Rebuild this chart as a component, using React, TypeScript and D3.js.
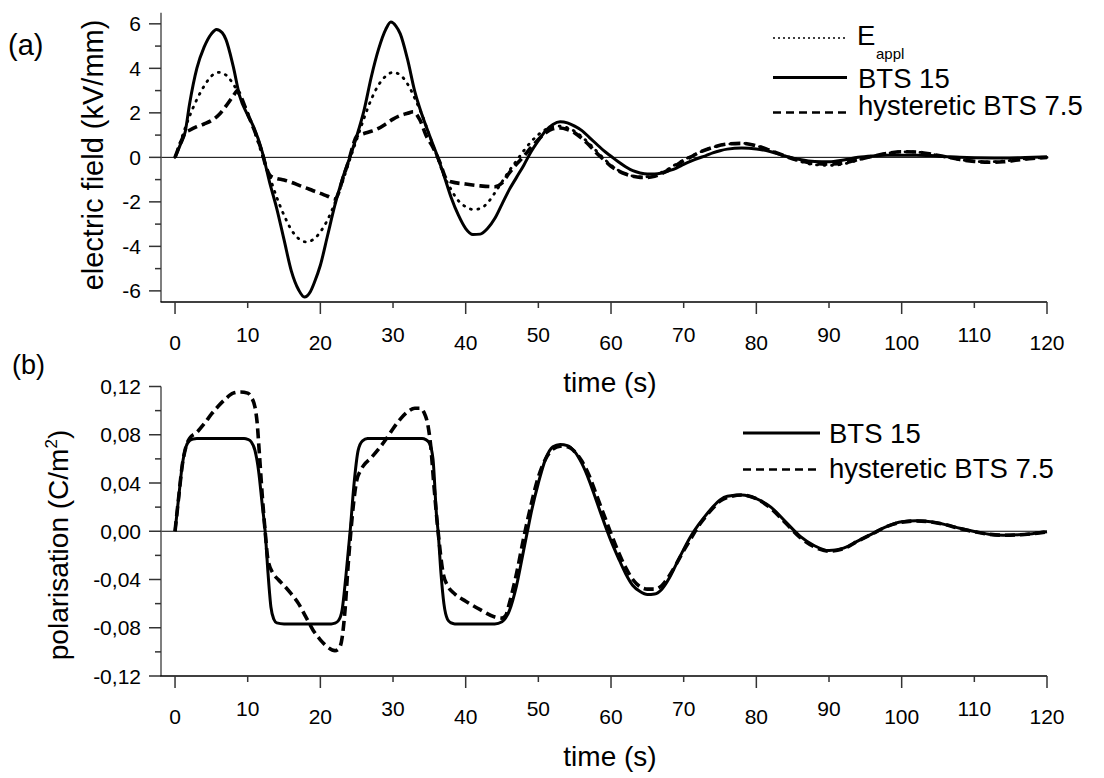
import React from 'react';
import * as d3 from 'd3';

type Pt = [number, number];

// ---------- data ----------
const timeTicks = [0, 10, 20, 30, 40, 50, 60, 70, 80, 90, 100, 110, 120];
const fieldTicks = [-6, -5, -4, -3, -2, -1, 0, 1, 2, 3, 4, 5, 6];
const polTicks = [-0.12, -0.1, -0.08, -0.06, -0.04, -0.02, 0, 0.02, 0.04, 0.06, 0.08, 0.1, 0.12];

// (a) applied field E_appl (kV/mm)
const eAppl: Pt[] = [
  [0, 0], [1, 0.95], [2, 1.85], [3, 2.6], [4, 3.2], [5, 3.65], [6, 3.82], [7, 3.7], [8, 3.3], [9, 2.7],
  [10, 2.0], [11, 1.1], [12, 0.1], [13, -0.85], [14, -1.8], [15, -2.6], [16, -3.25], [17, -3.65], [18, -3.8],
  [19, -3.7], [20, -3.35], [21, -2.8], [22, -2.05], [23, -1.15], [24, -0.15], [25, 0.8], [26, 1.75], [27, 2.6],
  [28, 3.25], [29, 3.65], [30, 3.82], [31, 3.7], [32, 3.3], [33, 2.65], [34, 1.9], [35, 1.0], [36, 0.1],
  [37, -0.8], [38, -1.45], [39, -1.95], [40, -2.22], [41, -2.34], [42, -2.3], [43, -2.05], [44, -1.6],
  [45, -1.1], [46, -0.6], [47, -0.15], [48, 0.3], [49, 0.7], [50, 1.02], [51, 1.25], [52, 1.38], [53, 1.4],
  [54, 1.33], [55, 1.17], [56, 0.92], [57, 0.62], [58, 0.28], [59, -0.05], [60, -0.35], [61, -0.58],
  [62, -0.74], [63, -0.84], [64, -0.88], [65, -0.87], [66, -0.8], [67, -0.67], [68, -0.5], [69, -0.3],
  [70, -0.12], [71, 0.05], [72, 0.2], [74, 0.45], [76, 0.6], [78, 0.63], [80, 0.52], [82, 0.3], [84, 0.05],
  [86, -0.18], [88, -0.33], [90, -0.36], [92, -0.3], [94, -0.12], [96, 0.05], [98, 0.18], [100, 0.25],
  [102, 0.24], [104, 0.15], [106, 0.02], [108, -0.1], [110, -0.18], [112, -0.2], [114, -0.17], [116, -0.1],
  [118, -0.04], [120, 0],
];

// (a) BTS 15 field
const eBts15: Pt[] = [
  [0, 0], [0.7, 0.55], [1.4, 1.15], [2, 2.4], [3, 4.0], [4, 4.95], [5, 5.55], [5.7, 5.75], [6.5, 5.6],
  [7, 5.3], [8, 4.1], [8.9, 2.75], [10, 1.9], [10.8, 1.38], [12, 0.25], [13, -1.1], [14, -2.3], [15, -3.7],
  [16, -5.1], [17, -5.95], [17.8, -6.28], [18.6, -6.05], [19.2, -5.6], [20, -4.85], [21, -3.5], [22, -2.15],
  [23, -1.0], [24, -0.05], [25, 0.95], [26, 2.1], [27, 3.6], [28, 4.85], [29, 5.75], [29.7, 6.08],
  [30.4, 5.9], [31, 5.55], [32, 4.4], [33, 2.95], [34, 1.9], [35, 1.0], [36, 0.15], [37, -0.8], [38, -1.8],
  [39, -2.6], [40, -3.2], [41, -3.47], [42, -3.45], [43, -3.2], [44, -2.75], [45, -2.1], [46, -1.45],
  [47, -0.9], [48, -0.35], [49, 0.25], [50, 0.75], [51, 1.2], [52, 1.48], [53, 1.6], [54, 1.55], [55, 1.4],
  [56, 1.2], [57, 0.9], [58, 0.6], [59, 0.3], [60, 0.05], [61, -0.2], [62, -0.42], [63, -0.6], [64, -0.7],
  [65, -0.75], [66, -0.75], [67, -0.7], [68, -0.6], [69, -0.48], [70, -0.32], [71, -0.17], [72, -0.04],
  [73, 0.07], [74, 0.2], [75, 0.3], [76, 0.37], [78, 0.42], [80, 0.38], [82, 0.25], [84, 0.06], [86, -0.1],
  [88, -0.19], [90, -0.2], [92, -0.12], [94, 0.0], [96, 0.06], [98, 0.09], [100, 0.1], [102, 0.1],
  [104, 0.08], [106, 0.04], [108, 0.0], [110, -0.02], [114, -0.03], [117, -0.01], [120, 0.02],
];

// (a) hysteretic BTS 7.5 field
const eHyst: Pt[] = [
  [0, 0], [0.7, 0.6], [1.4, 1.1], [2, 1.22], [3, 1.38], [4, 1.5], [5, 1.65], [6, 1.9], [7, 2.3], [8, 2.75],
  [8.6, 3.0], [9.1, 2.7], [10, 1.95], [11, 1.15], [12, 0.2], [12.5, -0.4], [13, -0.78], [13.5, -0.9],
  [14, -0.95], [15, -1.02], [16, -1.12], [17, -1.25], [18, -1.37], [19, -1.5], [20, -1.62], [21, -1.75],
  [22, -1.87], [22.5, -1.6], [23, -1.05], [24, -0.05], [24.5, 0.55], [25, 0.95], [26, 1.07], [27, 1.17],
  [28, 1.3], [29, 1.5], [30, 1.72], [31, 1.88], [32, 1.98], [32.8, 2.05], [33.7, 1.68], [34.6, 0.95],
  [35.5, 0.45], [36.5, -0.27], [37.3, -0.95], [38, -1.1], [40, -1.2], [42, -1.28], [44, -1.32], [45, -1.15],
  [46, -0.7], [47, -0.3], [48, 0.05], [49, 0.45], [50, 0.8], [51, 1.1], [52, 1.28], [53, 1.32], [54, 1.25],
  [55, 1.1], [56, 0.85], [57, 0.55], [58, 0.2], [59, -0.1], [60, -0.4], [61, -0.6], [62, -0.75], [63, -0.85],
  [64, -0.9], [65, -0.9], [66, -0.85], [67, -0.72], [68, -0.55], [69, -0.35], [70, -0.15], [71, 0.02],
  [72, 0.2], [74, 0.45], [76, 0.6], [78, 0.63], [80, 0.52], [82, 0.3], [84, 0.05], [86, -0.15], [88, -0.28],
  [90, -0.3], [92, -0.25], [94, -0.1], [96, 0.05], [98, 0.18], [100, 0.25], [102, 0.24], [104, 0.15],
  [106, 0.03], [108, -0.1], [110, -0.18], [112, -0.22], [114, -0.2], [116, -0.12], [118, -0.05], [120, 0],
];

// (b) BTS 15 polarisation (C/m^2)
const pBts15: Pt[] = [
  [0, 0], [0.5, 0.028], [1, 0.055], [1.5, 0.07], [2, 0.075], [2.5, 0.0765], [3, 0.0768], [9.5, 0.0768],
  [10, 0.0762], [10.5, 0.074], [11, 0.067], [11.5, 0.05], [12, 0.022], [12.4, 0], [12.8, -0.035],
  [13.2, -0.063], [13.6, -0.073], [14, -0.076], [15, -0.0768], [21.5, -0.0768], [22, -0.0762],
  [22.5, -0.074], [23, -0.065], [23.5, -0.038], [24.1, 0], [24.6, 0.037], [25.2, 0.067], [25.8, 0.075],
  [26.5, 0.0768], [34, 0.0768], [34.5, 0.076], [35, 0.073], [35.5, 0.06], [36, 0.012], [36.2, 0],
  [36.6, -0.035], [37, -0.06], [37.5, -0.073], [38, -0.076], [38.5, -0.0768], [44, -0.0768], [45, -0.075],
  [46, -0.066], [47, -0.045], [48, -0.015], [48.5, 0], [49, 0.015], [50, 0.04], [51, 0.06], [52, 0.07],
  [53, 0.072], [54, 0.071], [55, 0.066], [56, 0.056], [57, 0.042], [58, 0.025], [59, 0.008], [60, -0.008],
  [61, -0.022], [62, -0.035], [63, -0.045], [64, -0.05], [65, -0.0525], [66, -0.052], [67, -0.048],
  [68, -0.039], [69, -0.027], [70, -0.015], [71, -0.004], [72, 0.005], [73, 0.013], [74, 0.02],
  [75, 0.026], [76, 0.029], [78, 0.03], [80, 0.027], [82, 0.02], [84, 0.008], [86, -0.004], [88, -0.012],
  [90, -0.016], [92, -0.014], [94, -0.008], [96, -0.002], [98, 0.004], [100, 0.0078], [102, 0.0087],
  [104, 0.0078], [106, 0.0055], [108, 0.0025], [110, -0.0002], [112, -0.0025], [114, -0.0033], [116, -0.003],
  [118, -0.002], [120, -0.0005],
];

// (b) hysteretic BTS 7.5 polarisation
const pHyst: Pt[] = [
  [0, 0], [0.5, 0.028], [1, 0.055], [1.5, 0.07], [2, 0.077], [3, 0.082], [4, 0.089], [5, 0.097], [6, 0.104],
  [7, 0.11], [8, 0.1145], [9, 0.1155], [10, 0.1145], [10.5, 0.111], [11, 0.103], [11.3, 0.09], [11.6, 0.065],
  [12, 0.03], [12.4, 0], [12.8, -0.024], [13.5, -0.035], [14.2, -0.04], [15, -0.045], [16, -0.052],
  [17, -0.06], [18, -0.071], [19, -0.082], [20, -0.09], [21, -0.096], [22, -0.099], [22.6, -0.097],
  [23, -0.088], [23.4, -0.065], [23.8, -0.03], [24.2, 0], [24.6, 0.025], [25, 0.042], [25.5, 0.05],
  [26, 0.055], [27, 0.061], [28, 0.068], [29, 0.076], [30, 0.085], [31, 0.093], [32, 0.099], [33, 0.102],
  [33.7, 0.102], [34.3, 0.098], [34.8, 0.088], [35.2, 0.07], [35.6, 0.04], [36.2, 0], [36.9, -0.035],
  [37.5, -0.045], [38.5, -0.052], [40, -0.058], [42, -0.065], [44, -0.071], [45, -0.072], [45.5, -0.07],
  [46, -0.06], [47, -0.035], [48, -0.005], [49, 0.022], [50, 0.045], [51, 0.06], [52, 0.068], [53, 0.0705],
  [54, 0.07], [55, 0.066], [56, 0.058], [57, 0.046], [58, 0.03], [59, 0.014], [60, -0.002], [61, -0.017],
  [62, -0.03], [63, -0.04], [64, -0.046], [65, -0.048], [66, -0.048], [67, -0.045], [68, -0.037],
  [69, -0.027], [70, -0.016], [71, -0.006], [72, 0.004], [73, 0.012], [74, 0.019], [75, 0.025], [76, 0.028],
  [78, 0.03], [80, 0.027], [82, 0.019], [84, 0.007], [86, -0.005], [88, -0.013], [90, -0.0165],
  [92, -0.0145], [94, -0.008], [96, -0.002], [98, 0.004], [100, 0.0075], [102, 0.0085], [104, 0.0078],
  [106, 0.0055], [108, 0.0022], [110, -0.0004], [112, -0.0025], [114, -0.0033], [116, -0.003], [118, -0.002],
  [120, -0.0005],
];

// ---------- layout ----------
const W = 1104;
const H = 778;
const FONT = '"Liberation Sans", Arial, Helvetica, sans-serif';

const x = d3.scaleLinear().domain([-2, 120]).range([160.5, 1047]);
const yA = d3.scaleLinear().domain([-6.5, 6.5]).range([302, 12.7]);
const yB = d3.scaleLinear().domain([-0.12, 0.12]).range([676, 386.5]);

const solidStyle = { stroke: '#000', strokeWidth: 3, fill: 'none' };
const dashStyle = { stroke: '#000', strokeWidth: 3.6, fill: 'none', strokeDasharray: '10,5' };
const dotStyle = { stroke: '#000', strokeWidth: 2.8, fill: 'none', strokeDasharray: '1,6.5', strokeLinecap: 'round' as const };

function lineFor(y: d3.ScaleLinear<number, number>, data: Pt[]) {
  const g = d3.line<Pt>().x(d => x(d[0])).y(d => y(d[1])).curve(d3.curveMonotoneX);
  return g(data) || '';
}

function XAxis({ yPos }: { yPos: number }) {
  return (
    <g>
      <line x1={x(-2)} x2={x(120)} y1={yPos} y2={yPos} stroke="#000" strokeWidth={1.5} />
      {timeTicks.map((t, i) => {
        const major = i % 2 === 0;
        return (
          <g key={t}>
            <line x1={x(t)} x2={x(t)} y1={yPos} y2={yPos + (major ? 12 : 6)} stroke="#333" strokeWidth={1.5} />
            <text x={x(t)} y={yPos + (major ? 48 : 40)} textAnchor="middle" fontSize={21} fontFamily={FONT}>
              {t}
            </text>
          </g>
        );
      })}
    </g>
  );
}

function YAxis({ y, ticks, fmt, isMajor }: {
  y: d3.ScaleLinear<number, number>;
  ticks: number[];
  fmt: (v: number) => string;
  isMajor: (i: number) => boolean;
}) {
  const [lo, hi] = y.domain();
  return (
    <g>
      <line x1={161} x2={161} y1={y(hi)} y2={y(lo)} stroke="#555" strokeWidth={1.5} />
      {ticks.map((v, i) => {
        const major = isMajor(i);
        return (
          <g key={i}>
            <line x1={161 - (major ? 12 : 6)} x2={161} y1={y(v)} y2={y(v)} stroke="#333" strokeWidth={1.5} />
            {major && (
              <text x={141} y={y(v) + 7.5} textAnchor="end" fontSize={21} fontFamily={FONT}>
                {fmt(v)}
              </text>
            )}
          </g>
        );
      })}
    </g>
  );
}

const fmtField = (v: number) => (v < 0 ? '-' + Math.abs(v) : String(v));
const fmtPol = (v: number) => {
  const s = d3.format('.2f')(Math.abs(v)).replace('.', ',');
  return v < -1e-9 ? '-' + s : s;
};

export default function App() {
  return (
    <svg width={W} height={H} viewBox={`0 0 ${W} ${H}`}
      style={{ position: 'absolute', left: 0, top: 0, background: '#fff' }}
      fontFamily={FONT}>
      <rect x={0} y={0} width={W} height={H} fill="#fff" />

      {/* ---------- panel (a) ---------- */}
      <text x={8} y={55} fontSize={29}>(a)</text>
      <text transform={`translate(103,155) rotate(-90)`} textAnchor="middle" fontSize={29}>
        electric field (kV/mm)
      </text>
      <line x1={161} x2={x(120)} y1={yA(0)} y2={yA(0)} stroke="#000" strokeWidth={1} />
      <YAxis y={yA} ticks={fieldTicks} fmt={fmtField} isMajor={i => i % 2 === 0} />
      <XAxis yPos={302} />
      <text x={610} y={392} textAnchor="middle" fontSize={28}>time (s)</text>

      <path d={lineFor(yA, eAppl)} style={dotStyle} />
      <path d={lineFor(yA, eBts15)} style={solidStyle} />
      <path d={lineFor(yA, eHyst)} style={dashStyle} />

      {/* legend (a) */}
      <line x1={773} x2={847} y1={38} y2={38} stroke="#000" strokeWidth={1.4} strokeDasharray="2,3" />
      <text x={857} y={45} fontSize={27.5}>E</text>
      <text x={876} y={59} fontSize={15}>appl</text>
      <line x1={773} x2={847} y1={77.5} y2={77.5} stroke="#000" strokeWidth={3} />
      <text x={858} y={88} fontSize={27.5}>BTS 15</text>
      <line x1={773} x2={847} y1={112.5} y2={112.5} stroke="#000" strokeWidth={2.6} strokeDasharray="8,5" />
      <text x={858} y={115} fontSize={27.5}>hysteretic BTS 7.5</text>

      {/* ---------- panel (b) ---------- */}
      <text x={12} y={374} fontSize={27}>(b)</text>
      <text transform={`translate(68,545) rotate(-90)`} textAnchor="middle" fontSize={28}>
        polarisation (C/m<tspan fontSize={17} dy={-11}>2</tspan><tspan dy={11}>)</tspan>
      </text>
      <line x1={161} x2={x(120)} y1={yB(0)} y2={yB(0)} stroke="#000" strokeWidth={1} />
      <YAxis y={yB} ticks={polTicks} fmt={fmtPol} isMajor={i => i % 2 === 0} />
      <XAxis yPos={676} />
      <text x={610} y={766} textAnchor="middle" fontSize={28}>time (s)</text>

      <path d={lineFor(yB, pBts15)} style={solidStyle} />
      <path d={lineFor(yB, pHyst)} style={dashStyle} />

      {/* legend (b) */}
      <line x1={743} x2={820} y1={433} y2={433} stroke="#000" strokeWidth={3} />
      <text x={829} y={443} fontSize={27.5}>BTS 15</text>
      <line x1={743} x2={818} y1={469.5} y2={469.5} stroke="#000" strokeWidth={2.6} strokeDasharray="8,5" />
      <text x={829} y={478} fontSize={27.5}>hysteretic BTS 7.5</text>
    </svg>
  );
}
